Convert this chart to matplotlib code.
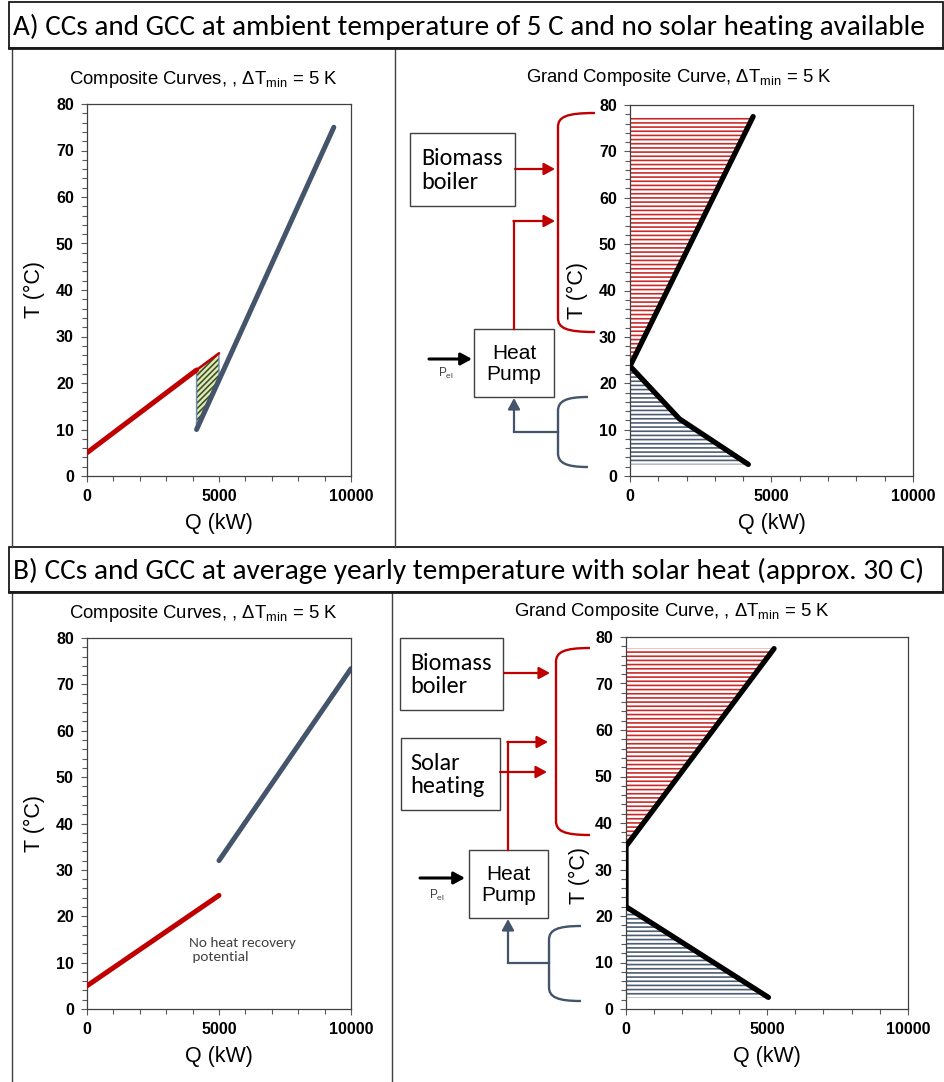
import matplotlib
matplotlib.use('Agg')
import matplotlib.pyplot as plt
from matplotlib import font_manager as fm
from matplotlib.patches import Rectangle, PathPatch
from matplotlib.path import Path
from matplotlib.ticker import MultipleLocator

# ---------------- data ----------------
HEADER_A = "A) CCs and GCC at ambient temperature of 5 C and no solar heating available"
HEADER_B = "B) CCs and GCC at average yearly temperature with solar heat (approx. 30 C)"
CC_TITLE = "Composite Curves, , \u0394T$_{\\mathrm{min}}$ = 5 K"
GCC_A_TITLE = "Grand Composite Curve, \u0394T$_{\\mathrm{min}}$ = 5 K"
GCC_B_TITLE = "Grand Composite Curve, , \u0394T$_{\\mathrm{min}}$ = 5 K"
X_LABEL = "Q (kW)"
Y_LABEL = "T (\u00b0C)"

# Panel A composite curves
CCA_HOT_Q = [0, 4150]
CCA_HOT_T = [5, 22.8]
CCA_HOT_OVL_Q = [4150, 5000]
CCA_HOT_OVL_T = [22.8, 26.4]
CCA_COLD_Q = [4150, 9350]
CCA_COLD_T = [10, 75]
CCA_OVL_Q = [4150, 4150, 5000, 5000, 4150]
CCA_OVL_T = [10, 22.8, 26.4, 20.6, 10]

# Panel A grand composite curve
GCCA_Q = [4350, 0, 1750, 4180]
GCCA_T = [77.5, 23.7, 12.3, 2.5]

# Panel B composite curves
CCB_HOT_Q = [0, 5000]
CCB_HOT_T = [5, 24.5]
CCB_COLD_Q = [5000, 10000]
CCB_COLD_T = [32, 73.4]
NO_RECOVERY_TEXT = "No heat recovery\n potential"

# Panel B grand composite curve
GCCB_Q = [5250, 0, 0, 5050]
GCCB_T = [77.5, 35, 22, 2.5]

RED = '#c00000'
BLUE = '#44546a'
GRAY = '#404040'

# ---------------- setup ----------------
W, H = 945, 1082
plt.rcParams['font.family'] = ['Liberation Sans', 'DejaVu Sans']
plt.rcParams['mathtext.fontset'] = 'custom'
plt.rcParams['mathtext.rm'] = 'Liberation Sans'
plt.rcParams['mathtext.it'] = 'Liberation Sans:italic'
plt.rcParams['mathtext.bf'] = 'Liberation Sans:bold'
plt.rcParams['hatch.linewidth'] = 1.2

_names = {f.name for f in fm.fontManager.ttflist}
HEADER_FONT = ['Lato', 'DejaVu Sans']
for cand in ['Carlito', 'Liberation Sans Narrow']:
    if cand in _names:
        HEADER_FONT = [cand, 'DejaVu Sans']
        break
CALIBRI = ['Carlito', 'Lato', 'DejaVu Sans'] if 'Carlito' in _names else ['Lato', 'DejaVu Sans']

fig = plt.figure(figsize=(W / 100, H / 100), dpi=100)
fig.patch.set_facecolor('white')

ov = fig.add_axes([0, 0, 1, 1])
ov.set_xlim(0, W)
ov.set_ylim(H, 0)
ov.axis('off')
ov.set_zorder(0)


def px_rect(x0, y0, x1, y1):
    return [x0 / W, 1 - y1 / H, (x1 - x0) / W, (y1 - y0) / H]


def style(ax, ylab_xy):
    ax.set_xlim(0, 10000)
    ax.set_ylim(0, 80)
    ax.xaxis.set_major_locator(MultipleLocator(5000))
    ax.xaxis.set_minor_locator(MultipleLocator(1000))
    ax.yaxis.set_major_locator(MultipleLocator(10))
    ax.yaxis.set_minor_locator(MultipleLocator(2))
    ax.tick_params(which='both', direction='out', width=0.8, color='#595959',
                   labelsize=11.5, labelcolor='black')
    ax.tick_params(which='major', length=4.5, pad=5)
    ax.tick_params(which='minor', length=3.5)
    plt.setp(ax.get_xticklabels() + ax.get_yticklabels(), fontweight='bold')
    for s in ax.spines.values():
        s.set_color(GRAY)
        s.set_linewidth(0.9)
    ax.set_xlabel(X_LABEL, fontsize=15.5, labelpad=6)
    ax.set_ylabel(Y_LABEL, fontsize=15.5)
    ax.yaxis.set_label_coords(*ylab_xy)
    ax.set_zorder(2)


def box(x0, y0, x1, y1, text, fam, size, ha='left', tx=None):
    ov.add_patch(Rectangle((x0, y0), x1 - x0, y1 - y0, facecolor='white',
                           edgecolor=GRAY, lw=1.0))
    if ha == 'left':
        ov.text(x0 + (tx if tx else 10), (y0 + y1) / 2 + 1, text, ha='left',
                va='center', family=fam, fontsize=size, linespacing=1.15)
    else:
        ov.text((x0 + x1) / 2, (y0 + y1) / 2 + 1, text, ha='center',
                va='center', family=fam, fontsize=size, linespacing=1.1)


def arrow(x0, y0, x1, y1, color, lw=1.6):
    ov.annotate('', xy=(x1, y1), xytext=(x0, y0),
                arrowprops=dict(arrowstyle='-|>,head_length=0.55,head_width=0.3',
                                color=color, lw=lw, shrinkA=0, shrinkB=0,
                                mutation_scale=12))


def bracket(xv, xe, yt, yb, color):
    verts = [(xe, yt), (xv + 8, yt), (xv, yt + 4), (xv, yt + 14),
             (xv, yb - 14), (xv, yb - 4), (xv + 8, yb), (xe, yb)]
    codes = [Path.MOVETO, Path.CURVE4, Path.CURVE4, Path.CURVE4,
             Path.LINETO, Path.CURVE4, Path.CURVE4, Path.CURVE4]
    ov.add_patch(PathPatch(Path(verts, codes), facecolor='none',
                           edgecolor=color, lw=1.7))


# ---------------- frames and headers ----------------
for (x, y0, y1) in [(12, 48, 547), (395, 48, 547), (12, 592, 1082), (392, 592, 1082)]:
    ov.plot([x, x], [y0, y1], color=GRAY, lw=1.0)

hdrs = []
for (y0, y1, txt) in [(2, 48, HEADER_A), (547, 592, HEADER_B)]:
    ov.add_patch(Rectangle((9, y0), 934, y1 - y0, facecolor='white',
                           edgecolor='#1a1a1a', lw=1.3))
    ov.plot([9, 943], [y1, y1], color='#1a1a1a', lw=2.0)
    t = ov.text(13, (y0 + y1) / 2 + 1.5, txt, ha='left', va='center',
                family=HEADER_FONT, fontsize=17)
    hdrs.append(t)

renderer = fig.canvas.get_renderer()
for t in hdrs:
    bb = t.get_window_extent(renderer=renderer)
    t.set_fontsize(t.get_fontsize() * 912 / bb.width)

# ---------------- Panel A: composite curves ----------------
axA = fig.add_axes(px_rect(87, 104, 351, 476))
axA.fill(CCA_OVL_Q, CCA_OVL_T, facecolor='#e2ebb4', edgecolor='#3e5230',
         hatch='//////', lw=0, zorder=2)
axA.plot(CCA_OVL_Q, CCA_OVL_T, color='#6d8bb5', lw=1.0, zorder=3)
axA.plot(CCA_HOT_Q, CCA_HOT_T, color=RED, lw=3.6, solid_capstyle='round', zorder=4)
axA.plot(CCA_HOT_OVL_Q, CCA_HOT_OVL_T, color=RED, lw=1.8, solid_capstyle='round', zorder=4)
axA.plot(CCA_COLD_Q, CCA_COLD_T, color=BLUE, lw=3.6, solid_capstyle='round', zorder=4)
style(axA, (-0.16, 0.5))
ov.text(203, 79, CC_TITLE, ha='center', va='center', fontsize=13.3)

# ---------------- Panel A: grand composite curve ----------------
gA = fig.add_axes(px_rect(630, 105, 913, 476))
gA.fill_betweenx(GCCA_T[:2], 0, GCCA_Q[:2], facecolor='none', edgecolor='#cc2a2a',
                 hatch='----', lw=0)
gA.fill_betweenx(GCCA_T[1:], 0, GCCA_Q[1:], facecolor='none', edgecolor='#4e5d76',
                 hatch='----', lw=0)
gA.plot(GCCA_Q, GCCA_T, color='black', lw=3.8, solid_capstyle='round',
        solid_joinstyle='round', zorder=4)
style(gA, (-0.148, 0.5))
ov.text(679, 78, GCC_A_TITLE, ha='center', va='center', fontsize=13.3)

# annotations A
box(410, 133, 515, 206, "Biomass\nboiler", CALIBRI, 17.5, tx=11)
box(474, 329, 554, 397, "Heat\nPump", ['Liberation Sans'], 15, ha='center')
arrow(515, 169, 555, 169, RED)
ov.plot([514, 514], [329, 221], color=RED, lw=1.6)
arrow(513.4, 221, 555, 221, RED)
bracket(558, 595, 113, 332, RED)
bracket(558, 588, 397, 467, BLUE)
ov.plot([558, 514], [432, 432], color=BLUE, lw=1.6)
arrow(514, 432, 514, 398, BLUE)
arrow(429, 359, 472, 359, 'black', lw=2.2)
ov.text(446, 373, "P$_{\\mathrm{el}}$", ha='center', va='center', fontsize=8.5,
        color=GRAY)

# ---------------- Panel B: composite curves ----------------
axB = fig.add_axes(px_rect(87, 638, 351, 1009))
axB.plot(CCB_HOT_Q, CCB_HOT_T, color=RED, lw=3.6, solid_capstyle='round', zorder=4)
axB.plot(CCB_COLD_Q, CCB_COLD_T, color=BLUE, lw=3.6, solid_capstyle='round',
         zorder=4)
axB.text(3850, 15.6, NO_RECOVERY_TEXT, ha='left', va='top', family=CALIBRI,
         fontsize=11, color=GRAY, linespacing=1.25)
style(axB, (-0.16, 0.5))
ov.text(203, 613, CC_TITLE, ha='center', va='center', fontsize=13.3)

# ---------------- Panel B: grand composite curve ----------------
gB = fig.add_axes(px_rect(626, 637, 908, 1009))
gB.fill_betweenx(GCCB_T[:2], 0, GCCB_Q[:2], facecolor='none', edgecolor='#cc2a2a',
                 hatch='----', lw=0)
gB.fill_betweenx(GCCB_T[2:], 0, GCCB_Q[2:], facecolor='none', edgecolor='#4e5d76',
                 hatch='----', lw=0)
gB.plot(GCCB_Q, GCCB_T, color='black', lw=3.8, solid_capstyle='round',
        solid_joinstyle='round', zorder=4)
style(gB, (-0.128, 0.36))
ov.text(672, 612, GCC_B_TITLE, ha='center', va='center', fontsize=13.3)

# annotations B
box(400, 638, 503, 710, "Biomass\nboiler", CALIBRI, 17.5, tx=10)
box(401, 738, 500, 810, "Solar\nheating", CALIBRI, 17.5, tx=9)
box(469, 850, 548, 918, "Heat\nPump", ['Liberation Sans'], 15, ha='center')
arrow(504, 673, 550, 673, RED)
arrow(500, 772, 547, 772, RED)
ov.plot([508, 508], [850, 742], color=RED, lw=1.6)
arrow(507.4, 742, 548, 742, RED)
bracket(556, 590, 648, 835, RED)
bracket(549, 581, 926, 1001, BLUE)
ov.plot([549, 508], [963, 963], color=BLUE, lw=1.6)
arrow(508, 963, 508, 919, BLUE)
arrow(420, 878, 465, 878, 'black', lw=2.2)
ov.text(437, 895, "P$_{\\mathrm{el}}$", ha='center', va='center', fontsize=8.5,
        color=GRAY)

fig.savefig('out.png', dpi=100, facecolor='white')
